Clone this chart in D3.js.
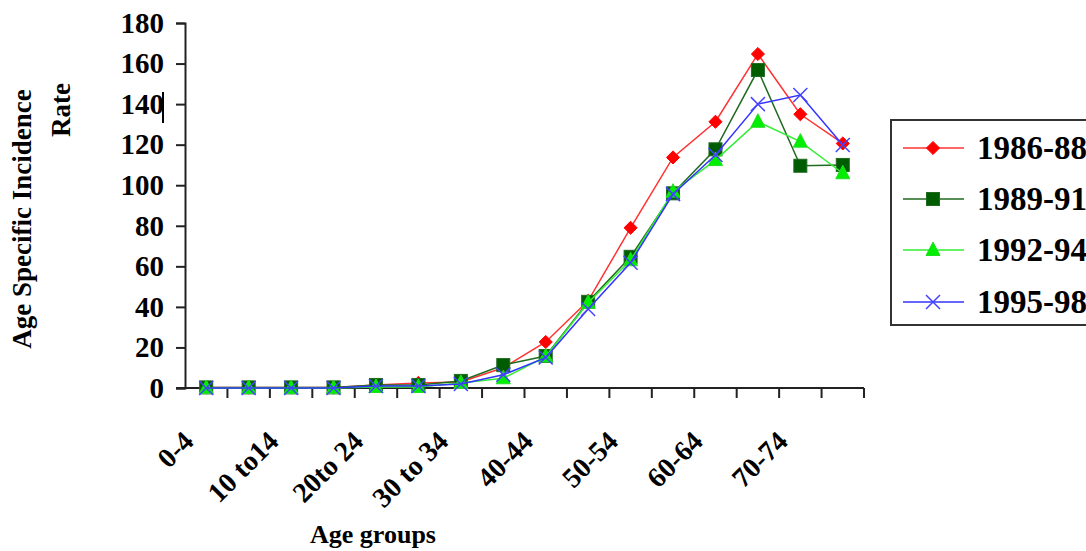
<!DOCTYPE html>
<html>
<head>
<meta charset="utf-8">
<script src="https://cdn.jsdelivr.net/npm/d3@7/dist/d3.min.js"></script>
<style>
  html, body { margin: 0; padding: 0; background: #fff; }
  svg { display: block; }
  text { font-family: "Liberation Serif", "Times New Roman", serif; font-weight: bold; fill: #000; }
</style>
</head>
<body>
<svg id="chart" width="1086" height="551"></svg>
<script>
// ---- data ----
const categories = ["0-4","5-9","10 to14","15-19","20to 24","25-29","30 to 34","35-39",
                    "40-44","45-49","50-54","55-59","60-64","65-69","70-74","75+"];
const shownLabels = ["0-4","10 to14","20to 24","30 to 34","40-44","50-54","60-64","70-74"];
const yTicks = [0,20,40,60,80,100,120,140,160,180];
const seriesNames = ["1986-88","1989-91","1992-94","1995-98"];
const s1986_88 = [0.3,0.3,0.3,0.3,1.5,2.5,3,10,22.7,43,79,113.7,131.3,164.7,135,120.6];
const s1989_91 = [0.3,0.3,0.3,0.3,1.5,1.5,3.5,11.3,15.8,42.5,64.7,96,117.7,156.8,109.6,110];
const s1992_94 = [0,0,0,0,0.5,0.5,2.5,4.8,15.5,42,63,96.8,112.4,131.3,121.5,105.9];
const s1995_98 = [0,0,0,0,1,1,2,6.5,15,39,61.8,95.6,114.9,140,144.5,119.8];
const seriesValues = [s1986_88, s1989_91, s1992_94, s1995_98];

// ---- styles ----
const lineColors = ["#ff3333", "#1f6b1f", "#33ee33", "#3333ff"];
const markers = ["diamond", "square", "triangle", "x"];

const svg = d3.select("#chart");
const x = d3.scaleBand().domain(categories).range([185, 864]).padding(0);
const y = d3.scaleLinear().domain([0, 180]).range([388, 23]);
const cx = c => x(c) + x.bandwidth() / 2;

// ---- y axis ----
const yAxis = d3.axisLeft(y).tickValues(yTicks).tickSize(9).tickPadding(12).tickFormat(d3.format("d"));
const gy = svg.append("g").attr("transform", "translate(185,0)").call(yAxis);
gy.select(".domain").attr("stroke", "#222").attr("stroke-width", 2);
gy.selectAll(".tick line").attr("stroke", "#222").attr("stroke-width", 2);
gy.selectAll(".tick text").attr("font-size", 29).attr("font-family", "Liberation Serif").attr("font-weight", "bold").attr("fill", "#000");

// stray cursor mark next to "140"
svg.append("line").attr("x1", 163).attr("x2", 163).attr("y1", y(140) - 12).attr("y2", y(140) + 19)
  .attr("stroke", "#000").attr("stroke-width", 2);

// ---- x axis ----
const xAxis = d3.axisBottom(x).tickSize(0).tickFormat("");
const gx = svg.append("g").attr("transform", "translate(0,388)").call(xAxis);
gx.select(".domain").remove();
gx.append("line").attr("x1", 176).attr("x2", 864).attr("y1", 0).attr("y2", 0)
  .attr("stroke", "#222").attr("stroke-width", 2);
const bounds = categories.map(c => x(c)).concat([x(categories[categories.length - 1]) + x.bandwidth()]);
gx.selectAll(".bt").data(bounds.slice(1)).enter().append("line")
  .attr("x1", d => d).attr("x2", d => d).attr("y1", 0).attr("y2", 10)
  .attr("stroke", "#222").attr("stroke-width", 2);

svg.selectAll(".xl").data(shownLabels).enter().append("text")
  .attr("transform", d => `translate(${cx(d) - 11},443) rotate(-45)`)
  .attr("text-anchor", "end").attr("font-size", 28).text(d => d);

// axis titles
svg.append("text").attr("x", 373).attr("y", 543).attr("text-anchor", "middle")
  .attr("font-size", 26).text("Age groups");
svg.append("text").attr("transform", "translate(31,219) rotate(-90)").attr("text-anchor", "middle")
  .attr("font-size", 27).text("Age Specific Incidence");
svg.append("text").attr("transform", "translate(70,110) rotate(-90)").attr("text-anchor", "middle")
  .attr("font-size", 27).text("Rate");

// ---- markers ----
function drawMarker(g, type, px, py, color) {
  if (type === "diamond") {
    g.append("path").attr("d", d3.symbol().type(d3.symbolDiamond2 || d3.symbolDiamond).size(110)())
      .attr("transform", `translate(${px},${py})`)
      .attr("fill", "#ff0000").attr("stroke", "#ff0000").attr("stroke-width", 1);
  } else if (type === "square") {
    g.append("rect").attr("x", px - 6.5).attr("y", py - 6.5).attr("width", 13).attr("height", 13)
      .attr("fill", "#005c00").attr("stroke", "#1f6b1f").attr("stroke-width", 1);
  } else if (type === "triangle") {
    g.append("path").attr("d", `M${px},${py - 8}L${px + 7},${py + 5.5}L${px - 7},${py + 5.5}Z`)
      .attr("fill", "#00ee00").attr("stroke", "#22dd22").attr("stroke-width", 1);
  } else {
    g.append("path").attr("d", `M${px - 7},${py - 7}L${px + 7},${py + 7}M${px + 7},${py - 7}L${px - 7},${py + 7}`)
      .attr("fill", "none").attr("stroke", "#4444ff").attr("stroke-width", 1.5);
  }
}

const line = d3.line().x((d, i) => cx(categories[i])).y(d => y(d));
seriesValues.forEach((vals, si) => {
  const g = svg.append("g");
  g.append("path").datum(vals).attr("d", line).attr("fill", "none")
    .attr("stroke", lineColors[si]).attr("stroke-width", 1.5);
  vals.forEach((v, i) => drawMarker(g, markers[si], cx(categories[i]), y(v), lineColors[si]));
});

// ---- legend ----
const lg = svg.append("g");
lg.append("rect").attr("x", 891).attr("y", 120).attr("width", 230).attr("height", 205)
  .attr("fill", "#fff").attr("stroke", "#333").attr("stroke-width", 2);
const legendY = [148, 199, 250, 302];
seriesNames.forEach((name, si) => {
  const yy = legendY[si];
  lg.append("line").attr("x1", 903).attr("x2", 964).attr("y1", yy).attr("y2", yy)
    .attr("stroke", lineColors[si]).attr("stroke-width", 1.6);
  drawMarker(lg, markers[si], 933, yy, lineColors[si]);
  lg.append("text").attr("x", 977).attr("y", yy).attr("dy", "0.34em")
    .attr("font-size", 33).text(name);
});
</script>
</body>
</html>
